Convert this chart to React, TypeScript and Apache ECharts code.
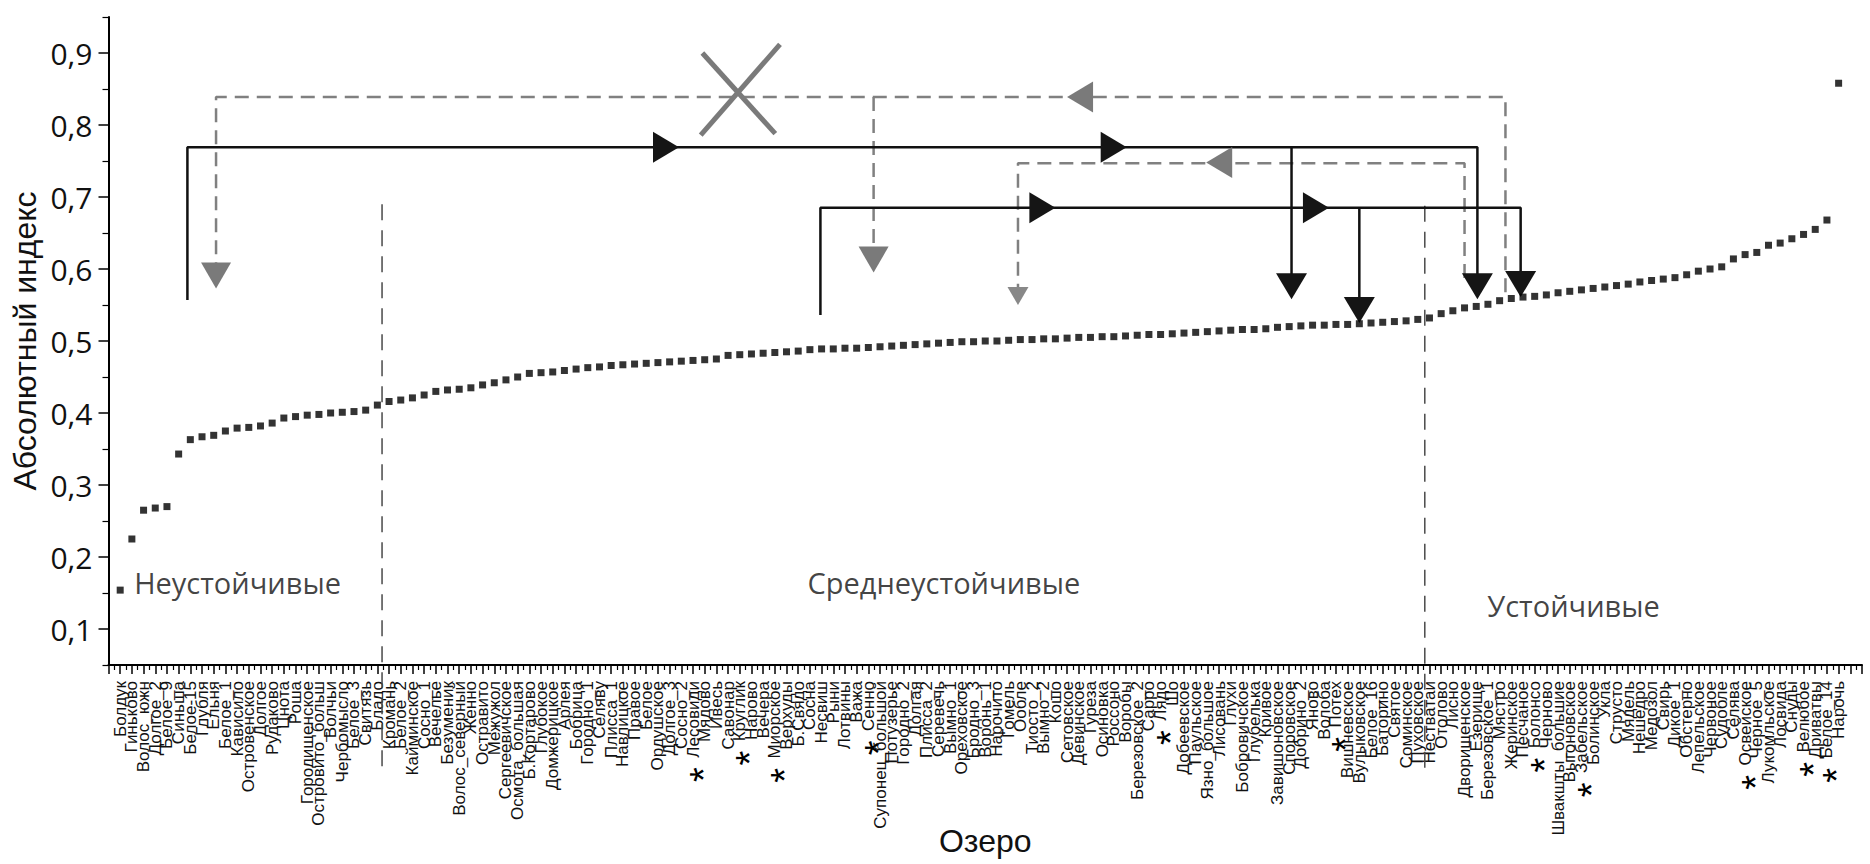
import React, { useEffect, useRef } from "react";
import * as echarts from "echarts";

// ---------- data ----------
const lakes: string[] = [
  "Болдук", "Гиньково", "Волос_южн", "Долгое_2", "Белое_9", "Синьша", "Белое-15", "Глубля", "Ельня", "Белое_1",
  "Кависило", "Островенское", "Долгое", "Рудаково", "Цнота", "Роша", "Городищенское", "Островито_больш", "Волчьи", "Чербомысло",
  "Белое_3", "Свитязь", "Бладо", "Кромань", "Белое_2", "Кайминское", "Сосно_1", "Вечелье", "Безуменик", "Волос_северный",
  "Женно", "Остравито", "Межужол", "Сергеевичское", "Осмота_большая", "Б.Кортарово", "Глубокое", "Домжерицкое", "Арлея", "Бобрица",
  "Городно_1", "Селяву", "Плисса_1", "Навлицкое", "Правое", "Белое", "Ордушское", "Долгое_3", "Сосно_2", "Лесовиди",
  "Мядово", "Ивесь", "Савонар", "Круглик", "Нарово", "Вечера", "Миорское", "Верхуды", "Б.Свядо", "Сосна",
  "Несвиш", "Рыни", "Лотвины", "Важа", "Сенно", "Супонец_большой", "Потузерье", "Городно_2", "Долгая", "Плисса_2",
  "Серевечь", "Вымно_1", "Ореховское", "Бродно_3", "Воронь_1", "Нарочито", "Гомель", "Ообле", "Тиосто_2", "Вымно_2",
  "Кошо", "Сетовское", "Девинское", "Гуреза", "Осиновка", "Россоно", "Воробы", "Березовское_2", "Сарро", "Лядо",
  "Шо", "Добеевское", "Паульское", "Язно_большое", "Лисовань", "Глухи", "Бобровичское", "Глубелька", "Кривое", "Завишоновское",
  "Споровское", "Добрино_2", "Яново", "Волоба", "Потех", "Вишневское", "Вулыковское", "Белое_16", "Баторино", "Святое",
  "Соминское", "Пуховское", "Нестватаи", "Отолово", "Лисно", "Дворищенское", "Езерище", "Березовское_1", "Мястро", "Жеринское",
  "Песчаное", "Болонсо", "Черново", "Швакшты_большие", "Выгоновское", "Забельское", "Болинское", "Укла", "Струсто", "Мядель",
  "Нешедро", "Медозол", "Свирь", "Дикое_1", "Обстерно", "Лепельское", "Червоное", "Судобле", "Селява", "Освейское",
  "Черное_5", "Лукомльское", "Лосвида", "Снуды", "Велюбое", "Дриватвы", "Белое_14", "Нарочь",
];

const indexValues: number[] = [
  0.154, 0.225, 0.265, 0.268, 0.270, 0.343, 0.363, 0.367, 0.369, 0.375,
  0.379, 0.380, 0.382, 0.386, 0.393, 0.395, 0.397, 0.398, 0.400, 0.401,
  0.402, 0.404, 0.411, 0.416, 0.418, 0.421, 0.425, 0.430, 0.432, 0.433,
  0.435, 0.439, 0.442, 0.446, 0.450, 0.455, 0.456, 0.457, 0.459, 0.461,
  0.463, 0.464, 0.466, 0.467, 0.468, 0.469, 0.470, 0.471, 0.472, 0.473,
  0.474, 0.475, 0.480, 0.481, 0.482, 0.483, 0.484, 0.485, 0.486, 0.488,
  0.489, 0.489, 0.490, 0.490, 0.491, 0.492, 0.493, 0.494, 0.495, 0.496,
  0.497, 0.498, 0.499, 0.499, 0.500, 0.500, 0.501, 0.502, 0.502, 0.503,
  0.503, 0.504, 0.505, 0.505, 0.506, 0.506, 0.507, 0.508, 0.509, 0.509,
  0.510, 0.511, 0.512, 0.513, 0.514, 0.515, 0.516, 0.516, 0.517, 0.519,
  0.520, 0.521, 0.522, 0.522, 0.523, 0.523, 0.524, 0.525, 0.526, 0.527,
  0.528, 0.530, 0.532, 0.538, 0.542, 0.546, 0.548, 0.551, 0.556, 0.559,
  0.561, 0.562, 0.564, 0.567, 0.569, 0.571, 0.573, 0.575, 0.577, 0.579,
  0.582, 0.584, 0.586, 0.588, 0.592, 0.597, 0.600, 0.603, 0.614, 0.620,
  0.623, 0.633, 0.636, 0.642, 0.648, 0.655, 0.668, 0.858,
];

const starredLakes: string[] = [
  "Лесовиди", "Круглик", "Миорское", "Сенно", "Лядо", "Потех", "Болонсо", "Забельское", "Освейское", "Велюбое", "Белое_14",
];

const yTickValues: number[] = [0.1, 0.2, 0.3, 0.4, 0.5, 0.6, 0.7, 0.8, 0.9];
const yMinorTickValues: number[] = [0.05, 0.15, 0.25, 0.35, 0.45, 0.55, 0.65, 0.75, 0.85, 0.95];

const zoneNames: string[] = ["Неустойчивые", "Среднеустойчивые", "Устойчивые"];
const zoneAnchors: number[][] = [[2.15, 0.165], [59.75, 0.165], [117.9, 0.132]];

// dashed zone dividers [x, yTop, yBottom]
const zoneDividers: number[][] = [[23.4, 0.69, -0.097], [112.6, 0.688, -0.097]];

// solid black connection paths
const solidPaths: number[][][] = [
  [[6.75, 0.557], [6.75, 0.769], [117.1, 0.769], [117.1, 0.575]],
  [[101.2, 0.769], [101.2, 0.575]],
  [[60.9, 0.536], [60.9, 0.685], [120.8, 0.685], [120.8, 0.578]],
  [[107.0, 0.685], [107.0, 0.54]],
];
// grey dashed connection paths
const greyDashedPaths: number[][][] = [
  [[9.2, 0.59], [9.2, 0.839], [119.5, 0.839], [119.5, 0.565]],
  [[65.45, 0.839], [65.45, 0.61]],
  [[77.8, 0.56], [77.8, 0.747], [116.0, 0.747], [116.0, 0.578]],
];
const blackDownArrows: number[][] = [[117.1, 0.558], [101.2, 0.558], [120.8, 0.561], [107.0, 0.525]];
const blackRightArrows: number[][] = [[48.8, 0.769], [87.1, 0.769], [81.0, 0.685], [104.4, 0.685]];
const greyDownArrows: number[][] = [[9.2, 0.573], [65.45, 0.595]];
const greySmallDownArrows: number[][] = [[77.8, 0.55]];
const greyLeftArrows: number[][] = [[82.0, 0.839], [93.9, 0.748]];
const crossLines: number[][][] = [
  [[50.8, 0.9], [57.04, 0.788]],
  [[57.44, 0.912], [50.66, 0.786]],
];

const DOWN = "path://M0,0L10,0L5,10Z";
const RIGHT = "path://M0,0L10,5L0,10Z";
const LEFT = "path://M10,0L0,5L10,10Z";

const TXT = "#111111";
const SANS = "Liberation Sans, Arial, sans-serif";

export default function App() {
  const ref = useRef<HTMLDivElement>(null);

  useEffect(() => {
    document.body.style.margin = "0";
    if (!ref.current) return;
    const chart = echarts.init(ref.current, undefined, { renderer: "svg" });

    const lineSeries = (pts: number[][], color: string, width: number, type: any, z = 3) => ({
      type: "line",
      data: pts,
      showSymbol: false,
      symbol: "none",
      clip: false,
      silent: true,
      z,
      lineStyle: { color, width, type },
    });

    const arrowSeries = (pts: number[][], symbol: string, size: number[], offset: any[], color: string) => ({
      type: "scatter",
      data: pts,
      symbol,
      symbolSize: size,
      symbolOffset: offset,
      silent: true,
      z: 5,
      itemStyle: { color, opacity: 1 },
    });

    const series: any[] = [];
    zoneDividers.forEach((d) =>
      series.push(lineSeries([[d[0], d[1]], [d[0], d[2]]], "#4a4a4a", 1.5, [16, 10], 2))
    );
    greyDashedPaths.forEach((p) => series.push(lineSeries(p, "#808080", 2.5, [14, 8], 3)));
    solidPaths.forEach((p) => series.push(lineSeries(p, "#111111", 2.5, "solid", 4)));
    crossLines.forEach((p) => series.push(lineSeries(p, "#7a7a7a", 5, "solid", 4)));

    series.push(arrowSeries(blackDownArrows, DOWN, [31, 26], [0, "-50%"], "#151515"));
    series.push(arrowSeries(blackRightArrows, RIGHT, [26, 31], ["-50%", 0], "#151515"));
    series.push(arrowSeries(greyDownArrows, DOWN, [30, 26], [0, "-50%"], "#7a7a7a"));
    series.push(arrowSeries(greySmallDownArrows, DOWN, [21, 18], [0, "-50%"], "#888888"));
    series.push(arrowSeries(greyLeftArrows, LEFT, [26, 31], ["50%", 0], "#7a7a7a"));

    series.push({
      type: "scatter",
      data: indexValues.map((v, i) => [i + 1, v]),
      symbol: "rect",
      symbolSize: 7,
      z: 6,
      itemStyle: { color: "#000" },
    });

    series.push({
      type: "scatter",
      data: zoneAnchors.map((a, i) => ({ value: a, label: { formatter: zoneNames[i] } })),
      symbolSize: 1,
      silent: true,
      itemStyle: { color: "rgba(0,0,0,0)" },
      label: {
        show: true,
        position: "right",
        distance: 0,
        fontSize: 29,
        fontFamily: "Open Sans",
        color: TXT,
      },
    });

    chart.setOption({
      animation: false,
      backgroundColor: "#ffffff",
      grid: { left: 108.5, right: 8, top: 17, bottom: 199, containLabel: false, outerBoundsMode: "none" },
      xAxis: {
        type: "value",
        min: 0,
        max: 150,
        interval: 1,
        splitLine: { show: false },
        axisLine: { lineStyle: { color: "#000", width: 2 } },
        axisTick: { length: 9, lineStyle: { color: "#000", width: 1.5 } },
        minorTick: { show: true, splitNumber: 2, length: 5, lineStyle: { color: "#000", width: 1.2 } },
        minorSplitLine: { show: false },
        axisLabel: {
          rotate: 90,
          margin: 16,
          fontSize: 17,
          fontFamily: SANS,
          color: TXT,
          hideOverlap: false,
          formatter: (v: number) => {
            const n = lakes[Math.round(v) - 1];
            if (!n) return "";
            return starredLakes.includes(n) ? "{s|*}  " + n : n;
          },
          rich: {
            s: { fontSize: 38, fontFamily: SANS, color: "#000", verticalAlign: "top", lineHeight: 17 },
          },
        },
        name: "Озеро",
        nameLocation: "middle",
        nameGap: 160,
        nameMoveOverlap: false,
        nameTextStyle: { fontSize: 32, fontFamily: SANS, color: TXT },
      },
      yAxis: [
        {
          type: "value",
          min: 0.05,
          max: 0.95,
          splitLine: { show: false },
          axisLine: { show: true, lineStyle: { color: "#000", width: 2 } },
          axisTick: { show: true, length: 10, customValues: yTickValues, lineStyle: { color: "#000", width: 1.5 } },
          axisLabel: {
            customValues: yTickValues,
            margin: 16,
            fontSize: 30,
            fontFamily: "Open Sans",
            color: TXT,
            formatter: (v: number) => v.toFixed(1).replace(".", ","),
          },
          name: "Абсолютный индекс",
          nameLocation: "middle",
          nameGap: 68,
          nameMoveOverlap: false,
          nameTextStyle: { fontSize: 32, fontFamily: SANS, color: TXT },
        },
        {
          type: "value",
          min: 0.05,
          max: 0.95,
          position: "left",
          splitLine: { show: false },
          axisLine: { show: false },
          axisTick: { show: true, length: 6, customValues: yMinorTickValues, lineStyle: { color: "#000", width: 1.2 } },
          axisLabel: { show: false },
        },
      ],
      series,
    });

    return () => chart.dispose();
  }, []);

  return (
    <div
      ref={ref}
      style={{ position: "fixed", left: 0, top: 0, width: "1870px", height: "864px", background: "#fff" }}
    />
  );
}
